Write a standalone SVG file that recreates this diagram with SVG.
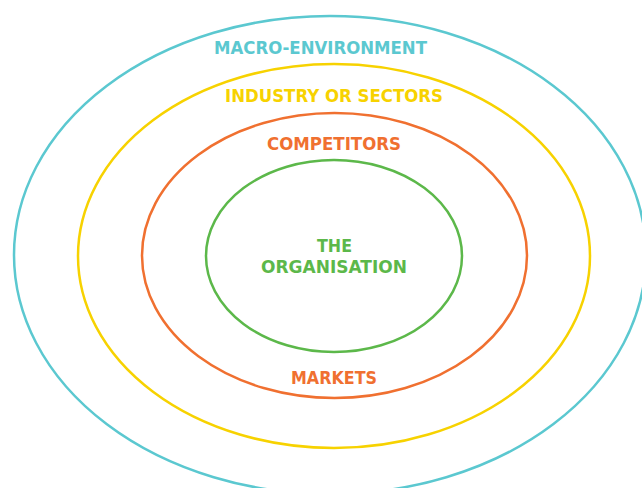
<svg xmlns="http://www.w3.org/2000/svg" width="642" height="488" viewBox="0 0 642 488">
<style>
.ring{fill:none;stroke-width:2.5}
.lbl{font-family:"DejaVu Sans","Liberation Sans",sans-serif;font-weight:bold;font-size:18px;text-anchor:middle}
</style>
<rect width="642" height="488" fill="#fff"/>
<g id="macro">
<ellipse class="ring" cx="330" cy="255" rx="316" ry="239" stroke="#5bc8d0"/>
<text class="lbl" x="320.5" y="54" fill="#5bc8d0" textLength="213" lengthAdjust="spacingAndGlyphs">MACRO-ENVIRONMENT</text>
</g>
<g id="industry">
<ellipse class="ring" cx="334" cy="256" rx="256" ry="192" stroke="#f7d200"/>
<text class="lbl" x="334" y="102" fill="#f7d200" textLength="218" lengthAdjust="spacingAndGlyphs">INDUSTRY OR SECTORS</text>
</g>
<g id="competitors">
<ellipse class="ring" cx="334.5" cy="255.5" rx="192.5" ry="142.5" stroke="#f07030"/>
<text class="lbl" x="334" y="150" fill="#f07030" textLength="134" lengthAdjust="spacingAndGlyphs">COMPETITORS</text>
<text class="lbl" x="334" y="384" fill="#f07030" textLength="86" lengthAdjust="spacingAndGlyphs">MARKETS</text>
</g>
<g id="organisation">
<ellipse class="ring" cx="334" cy="256" rx="128" ry="96" stroke="#5cb84a"/>
<text class="lbl" x="334.5" y="252" fill="#5cb84a" textLength="35" lengthAdjust="spacingAndGlyphs">THE</text>
<text class="lbl" x="334" y="273" fill="#5cb84a" textLength="146" lengthAdjust="spacingAndGlyphs">ORGANISATION</text>
</g>
<g id="connectors"></g>
</svg>
